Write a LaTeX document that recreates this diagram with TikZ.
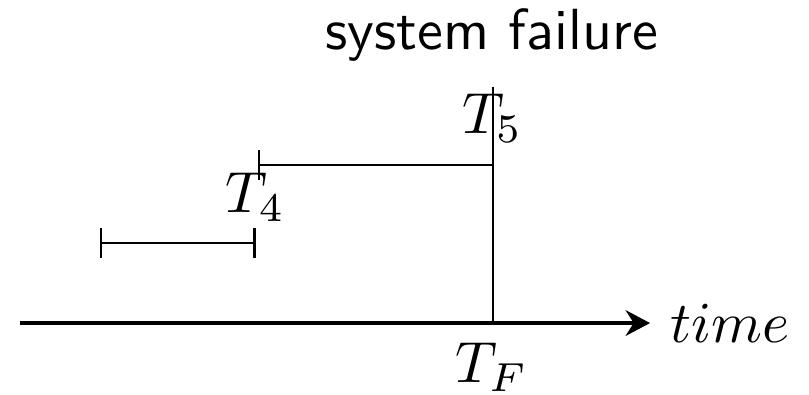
\documentclass[tikz,border=0pt]{standalone}
\usetikzlibrary{arrows.meta}
\begin{document}
\begin{tikzpicture}[x=1pt, y=1pt,
    axis/.style={thick, -{Stealth[length=4.2pt, width=4.4pt]}},
    span/.style={{Bar[width=5.2pt]}-{Bar[width=5.2pt]}},
    lbl/.style={anchor=base, inner sep=0pt}]
  \useasboundingbox (0,0) rectangle (139.5,68.1);
  % points on the time axis
  \coordinate (start) at (3.4,12.4);
  \coordinate (tend)  at (112.1,12.4);
  \coordinate (tf)    at (85,12.4);
  \coordinate (fail)  at (85,53.1);
  % interval end points
  \coordinate (a1) at (17.2,26.2);
  \coordinate (a2) at (44.1,26.2);
  \coordinate (b1) at (44.5,39.7);
  \coordinate (b2) at (85,39.7);
  \node[right] (time) at (tend) {$time$};
  \node[lbl] (TF) at (84.8,2.1) {$T_F$};
  \node[lbl] (T4) at (44,31.4) {$T_4$};
  \node[lbl] (T5) at (84.9,45) {$T_5$};
  \node[lbl, font=\sffamily] (sys) at (84.8,59.6) {system failure};
  \draw[axis] (start) -- (tend);
  \draw (fail) -- (tf);
  \draw[span] (a1) -- (a2);
  \draw[{Bar[width=5.2pt]}-] (b1) -- (b2);
\end{tikzpicture}
\end{document}
